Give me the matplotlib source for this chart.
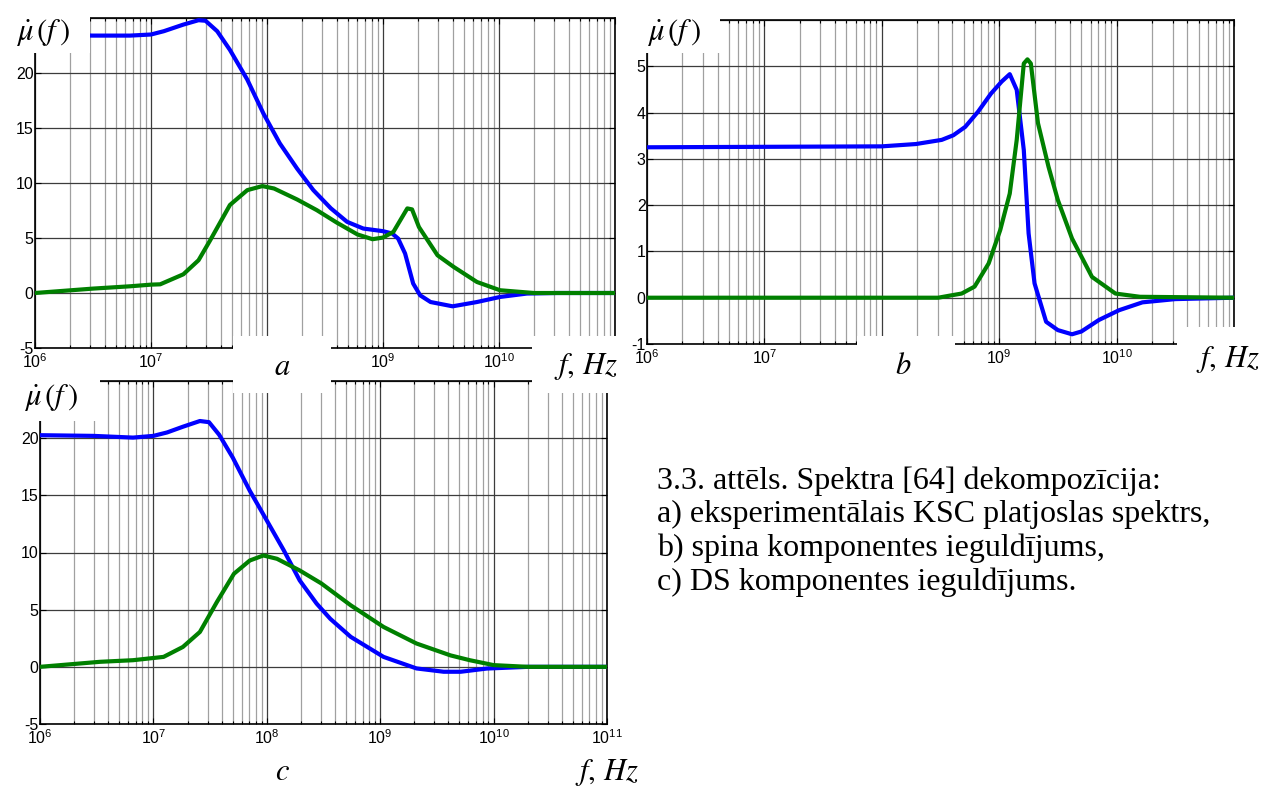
import matplotlib
matplotlib.use('Agg')
import matplotlib.pyplot as plt
from matplotlib.patches import Rectangle
from matplotlib.ticker import NullFormatter

plt.rcParams['font.family'] = ['Liberation Sans', 'DejaVu Sans']
plt.rcParams['axes.unicode_minus'] = False
plt.rcParams['mathtext.fontset'] = 'custom'
plt.rcParams['mathtext.rm'] = 'Liberation Sans'
plt.rcParams['mathtext.it'] = 'Liberation Sans:italic'
plt.rcParams['mathtext.bf'] = 'Liberation Sans:bold'

# a) full spectrum
fa_blue = [1e6, 3.16e6, 6.6e6, 1e7, 1.29e7, 1.9e7, 2.57e7, 2.95e7, 3.72e7, 4.79e7,
           6.76e7, 9.33e7, 1.29e8, 1.82e8, 2.51e8, 3.55e8, 4.9e8, 6.76e8, 1e9, 1.2e9,
           1.35e9, 1.55e9, 1.82e9, 2.09e9, 2.57e9, 3.98e9, 6.46e9, 1.02e10, 1.74e10, 3.16e10, 1e11]
va_blue = [23.5, 23.4, 23.4, 23.5, 23.8, 24.4, 24.8, 24.75, 23.8, 22.1,
           19.4, 16.3, 13.6, 11.3, 9.35, 7.7, 6.47, 5.86, 5.62, 5.41,
           4.95, 3.59, 0.86, -0.21, -0.82, -1.21, -0.82, -0.36, -0.05, 0.0, 0.0]
fa_green = [1e6, 3.16e6, 6.6e6, 1e7, 1.2e7, 1.9e7, 2.57e7, 3.24e7, 4.79e7, 6.76e7,
            9.12e7, 1.15e8, 1.82e8, 2.69e8, 3.98e8, 6.03e8, 8.13e8, 1e9, 1.23e9, 1.62e9,
            1.78e9, 2.04e9, 2.95e9, 4.07e9, 6.46e9, 1.02e10, 2e10, 1e11]
va_green = [0.0, 0.4, 0.61, 0.76, 0.79, 1.7, 2.98, 4.8, 8.0, 9.35,
            9.72, 9.5, 8.5, 7.53, 6.41, 5.32, 4.89, 5.04, 5.56, 7.69,
            7.6, 6.0, 3.43, 2.37, 1.0, 0.25, 0.0, 0.0]

# b) spin component
fb_blue = [1e6, 1e8, 1.95e8, 3.24e8, 4.07e8, 5.13e8, 6.61e8, 8.51e8, 1.05e9, 1.23e9,
           1.41e9, 1.62e9, 1.78e9, 2e9, 2.51e9, 3.16e9, 4.17e9, 5.01e9, 7.08e9, 1.05e10,
           1.66e10, 3.16e10, 1e11]
vb_blue = [3.25, 3.27, 3.32, 3.41, 3.51, 3.69, 4.02, 4.41, 4.67, 4.83,
           4.49, 3.19, 1.39, 0.31, -0.52, -0.70, -0.79, -0.73, -0.48, -0.27,
           -0.10, -0.03, 0.0]
fb_green = [1e6, 3.02e8, 3.89e8, 4.79e8, 6.17e8, 8.13e8, 1.02e9, 1.23e9, 1.41e9, 1.62e9,
            1.74e9, 1.86e9, 2.14e9, 2.63e9, 3.16e9, 4.17e9, 6.17e9, 9.77e9, 1.58e10, 1e11]
vb_green = [0.0, 0.0, 0.05, 0.09, 0.24, 0.74, 1.46, 2.25, 3.41, 5.06,
            5.15, 5.06, 3.77, 2.83, 2.11, 1.28, 0.45, 0.09, 0.02, 0.0]

# c) DS component
fc_blue = [1e6, 2.95e6, 6.61e6, 1e7, 1.32e7, 1.82e7, 2.57e7, 3.09e7, 3.8e7, 5.01e7,
           7.08e7, 1e8, 1.41e8, 1.95e8, 2.75e8, 3.63e8, 5.5e8, 1.07e9, 2.09e9, 3.63e9,
           5.13e9, 8.71e9, 2e10, 1e11]
vc_blue = [20.26, 20.2, 20.05, 20.2, 20.5, 21.0, 21.5, 21.4, 20.3, 18.3,
           15.4, 12.8, 10.2, 7.56, 5.53, 4.2, 2.62, 0.87, -0.14, -0.43,
           -0.43, -0.15, 0.0, 0.0]
fc_green = [1e6, 3.39e6, 6.61e6, 1.23e7, 1.82e7, 2.57e7, 3.63e7, 5.13e7, 7.08e7, 9.33e7,
            1.23e8, 1.95e8, 3.02e8, 5.5e8, 1.07e9, 2.09e9, 4.17e9, 6.17e9, 1e10, 2e10, 1e11]
vc_green = [0.0, 0.44, 0.58, 0.87, 1.74, 3.05, 5.67, 8.14, 9.30, 9.74,
            9.45, 8.43, 7.3, 5.38, 3.49, 2.04, 1.0, 0.58, 0.15, 0.0, 0.0]

# ticks (labels that the pasted-over parts hide are left empty)
x_ticks = [1e6, 1e7, 1e8, 1e9, 1e10, 1e11]
x_labels_a = [r'$10^{6}$', r'$10^{7}$', '', r'$10^{9}$', r'$10^{10}$', '']
x_labels_b = [r'$10^{6}$', r'$10^{7}$', '', r'$10^{9}$', r'$10^{10}$', '']
x_labels_c = [r'$10^{6}$', r'$10^{7}$', r'$10^{8}$', r'$10^{9}$', r'$10^{10}$', r'$10^{11}$']
y_ticks_ac = [-5, 0, 5, 10, 15, 20, 25]
y_labels_ac = ['-5', '0', '5', '10', '15', '20', '']
y_ticks_b = [-1, 0, 1, 2, 3, 4, 5, 6]
y_labels_b = ['-1', '0', '1', '2', '3', '4', '5', '']

caption = ['3.3. attēls. Spektra [64] dekompozīcija:',
           'a) eksperimentālais KSC platjoslas spektrs,',
           'b) spina komponentes ieguldījums,',
           'c) DS komponentes ieguldījums.']

W, H = 1263, 789
fig = plt.figure(figsize=(W / 100, H / 100), dpi=100)


def axes_px(l, t, r, b):
    return fig.add_axes([l / W, 1 - b / H, (r - l) / W, (b - t) / H])


def mask(x0, y0, x1, y1):
    fig.add_artist(Rectangle((x0 / W, 1 - y1 / H), (x1 - x0) / W, (y1 - y0) / H,
                             transform=fig.transFigure, facecolor='white',
                             edgecolor='none', zorder=5))


def label(x, y, s, size=22):
    fig.text(x / W, 1 - y / H, s, fontsize=size, ha='center', va='center',
             math_fontfamily='stix', zorder=6)


def panel(ax, fb, vb, fg, vg, ylim, yticks, ylabels, xlabels):
    ax.plot(fb, vb, color='#0000ff', lw=3, solid_joinstyle='round', zorder=3)
    ax.plot(fg, vg, color='#008000', lw=3, solid_joinstyle='round', zorder=3)
    ax.set_xscale('log')
    ax.set_xlim(1e6, 1e11)
    ax.set_ylim(*ylim)
    ax.set_xticks(x_ticks, labels=xlabels)
    ax.set_yticks(yticks, labels=ylabels)
    ax.xaxis.set_minor_formatter(NullFormatter())
    ax.grid(True, which='major', color='#3c3c3c', lw=0.9)
    ax.grid(True, which='minor', axis='x', color='#a0a0a0', lw=0.9)
    ax.tick_params(which='both', direction='in', top=True, right=True,
                   labelsize=11.5, width=0.8)
    ax.tick_params(axis='x', pad=3)
    ax.tick_params(axis='y', pad=1)
    ax.tick_params(which='major', length=4)
    ax.tick_params(which='minor', length=2.5)
    for sp in ax.spines.values():
        sp.set_linewidth(1.2)


ax_a = axes_px(35, 18, 615, 348)
panel(ax_a, fa_blue, va_blue, fa_green, va_green, (-5, 25), y_ticks_ac, y_labels_ac, x_labels_a)

ax_b = axes_px(647, 20, 1234, 344)
panel(ax_b, fb_blue, vb_blue, fb_green, vb_green, (-1, 6), y_ticks_b, y_labels_b, x_labels_b)

ax_c = axes_px(40, 381, 607, 724)
panel(ax_c, fc_blue, vc_blue, fc_green, vc_green, (-5, 25), y_ticks_ac, y_labels_ac, x_labels_c)

# white patches of the pasted composite
mask(0, 0, 90, 53)
mask(233, 336, 331, 393)
mask(532, 336, 629, 393)
mask(0, 372, 100, 421)
mask(625, 0, 720, 53)
mask(857, 336, 955, 392)
mask(1177, 327, 1263, 392)

mu = r'$\dot{\mu}\,(f\,)$'
label(43, 32, mu, 22)
label(674, 32, mu, 22)
label(51, 398, mu, 22)
label(282, 367, r'$a$')
label(903, 366, r'$b$')
label(282, 772, r'$c$')
label(586, 366, r'$f,\,Hz$')
label(1228, 359, r'$f,\,Hz$')
label(607, 772, r'$f,\,Hz$')

for i, line in enumerate(caption):
    fig.text(657 / W, 1 - (481 + 33.7 * i) / H, line, fontsize=23,
             family='Liberation Serif', ha='left', va='center', zorder=6)

fig.savefig('out.png', dpi=100)
